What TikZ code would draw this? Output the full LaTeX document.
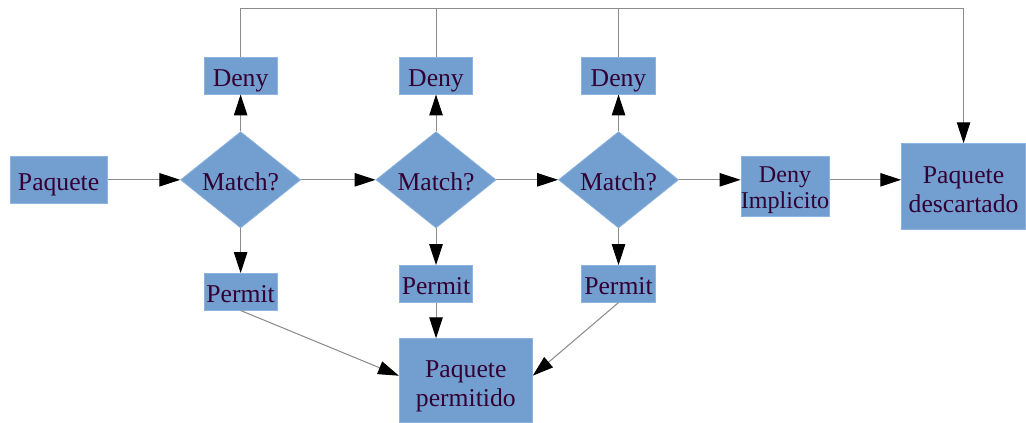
\documentclass[tikz,border=0pt]{standalone}
\usepackage{fontspec}
\setmainfont{Liberation Serif}
\usetikzlibrary{positioning, shapes.geometric, arrows.meta}

\definecolor{boxblue}{HTML}{729FCF}
\definecolor{boxline}{HTML}{8DB4DE}
\definecolor{boxtext}{HTML}{330033}
\definecolor{wire}{HTML}{8C8C8C}

\begin{document}
\begin{tikzpicture}[
  box/.style={rectangle, fill=boxblue, draw=boxline, line width=0.4pt, text=boxtext,
    inner sep=0pt, align=center, font=\fontsize{14.7}{16.5}\selectfont,
    text height=0.56cm, text depth=0.13cm},
  twoline/.style={text height=1.12cm, text depth=0.08cm},
  tag/.style={box, minimum width=1.48cm, minimum height=0.74cm},
  test/.style={box, diamond, aspect=1.25, minimum width=2.42cm, minimum height=1.94cm},
  link/.style={draw=wire, line width=0.6pt, -{Triangle[length=0.42cm, width=0.27cm, color=black]}},
  wireline/.style={draw=wire, line width=0.6pt}
]
\node[box, minimum width=1.96cm, minimum height=0.96cm] (pkt) {Paquete};
\node[test, right = 1.46cm of pkt] (m1) {Match?};
\node[test, right = 1.5cm of m1] (m2) {Match?};
\node[test, right = 1.24cm of m2] (m3) {Match?};

\node[tag, above = 0.74cm of m1] (d1) {Deny};
\node[tag, above = 0.74cm of m2] (d2) {Deny};
\node[tag, above = 0.74cm of m3] (d3) {Deny};
\node[tag, below = 0.9cm of m1] (p1) {Permit};
\node[tag, below = 0.74cm of m2] (p2) {Permit};
\node[tag, below = 0.74cm of m3] (p3) {Permit};

\node[box, twoline, right = 1.24cm of m3, yshift=-0.13cm, minimum width=1.72cm, minimum height=1.22cm,
  font=\fontsize{13.8}{15.2}\selectfont, text height=0.98cm] (imp) {Deny\\Implicito};
\node[box, twoline, right = 1.44cm of imp, minimum width=2.5cm, minimum height=1.72cm] (drop) {Paquete\\descartado};
\node[box, twoline, below = 0.72cm of p2, xshift=0.6cm, minimum width=2.68cm, minimum height=1.68cm] (pass) {Paquete\\permitido};

\coordinate[above = 0.98cm of d1.north] (ret);

\path[use as bounding box] (pkt.center) ++(-1.18,3.62) rectangle ++(20.52,-8.46);

\path (pkt) edge[link] (m1);
\path (m1) edge[link] (m2);
\path (m2) edge[link] (m3);
\path (m3.east) edge[link] (m3.east -| imp.west);
\path (imp.east |- m3.east) edge[link] (m3.east -| drop.west);

\path (m1) edge[link] (d1);
\path (m2) edge[link] (d2);
\path (m3) edge[link] (d3);
\path (m1) edge[link] (p1);
\path (m2) edge[link] (p2);
\path (m3) edge[link] (p3);

\path (p1.south) edge[link] (pass.176);
\path (p2.south) edge[link] (p2.south |- pass.north);
\path (p3.south) edge[link] (pass.4);

\draw[link] (d1.north) -- (ret) -| (drop.north);
\draw[wireline] (d2.north) -- (d2.north |- ret);
\draw[wireline] (d3.north) -- (d3.north |- ret);
\end{tikzpicture}
\end{document}
